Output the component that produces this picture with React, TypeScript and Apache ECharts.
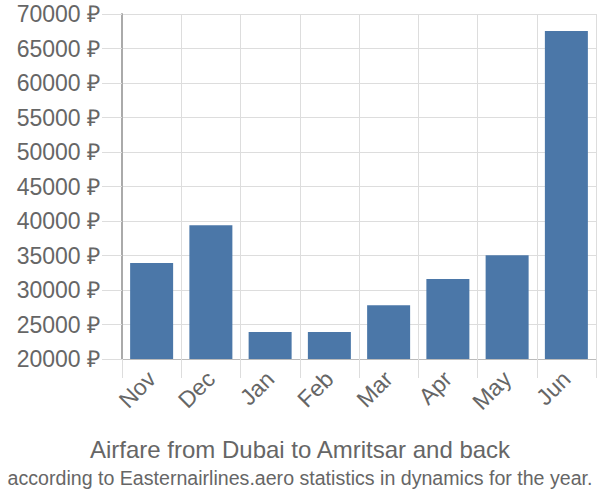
import React, { useEffect, useRef } from "react";
import * as echarts from "echarts";

const months = ["Nov", "Dec", "Jan", "Feb", "Mar", "Apr", "May", "Jun"];
const prices = [33900, 39400, 23900, 23900, 27800, 31600, 35050, 67550];
const yMin = 20000;
const yMax = 70000;
const yStep = 5000;
const titleText = "Airfare from Dubai to Amritsar and back";
const subtitleText = "according to Easternairlines.aero statistics in dynamics for the year.";

export default function App() {
  const ref = useRef<HTMLDivElement>(null);
  useEffect(() => {
    if (!ref.current) return;
    const chart = echarts.init(ref.current, null, { renderer: "svg" });
    const font = "'Liberation Sans', Arial, sans-serif";
    chart.setOption({
      animation: false,
      textStyle: { fontFamily: font },
      title: [
        {
          text: titleText,
          left: "center",
          top: 432,
          textStyle: { fontSize: 24, fontWeight: "normal", color: "#666", fontFamily: font },
        },
        {
          text: subtitleText,
          left: "center",
          top: 463,
          textStyle: { fontSize: 19.6, fontWeight: "normal", color: "#666", fontFamily: font },
        },
      ],
      grid: { left: 122, right: 4, top: 14, bottom: 141, containLabel: false },
      xAxis: {
        type: "category",
        data: months,
        boundaryGap: true,
        axisLine: { show: true, lineStyle: { color: "#bbb", width: 1 } },
        axisTick: { show: true, length: 19, alignWithLabel: false, lineStyle: { color: "#ddd" } },
        splitLine: { show: true, lineStyle: { color: "#ddd" } },
        axisLabel: {
          rotate: 45,
          fontSize: 23,
          color: "#666",
          margin: 16,
          interval: 0,
          fontFamily: font,
        },
      },
      yAxis: {
        type: "value",
        min: yMin,
        max: yMax,
        interval: yStep,
        axisLine: { show: true, lineStyle: { color: "#aaa", width: 2 } },
        axisTick: { show: true, length: 20, lineStyle: { color: "#ddd" } },
        splitLine: { show: true, lineStyle: { color: "#ddd" } },
        axisLabel: {
          fontSize: 23,
          color: "#666",
          margin: 22,
          fontFamily: font,
          formatter: (v: number) => `${v} ₽`,
        },
      },
      series: [
        {
          type: "bar",
          data: prices,
          barWidth: 43,
          itemStyle: { color: "#4b77a8" },
        },
      ],
    });
    return () => chart.dispose();
  }, []);
  return (
    <div
      ref={ref}
      style={{ position: "absolute", left: 0, top: 0, width: 600, height: 500 }}
    />
  );
}
